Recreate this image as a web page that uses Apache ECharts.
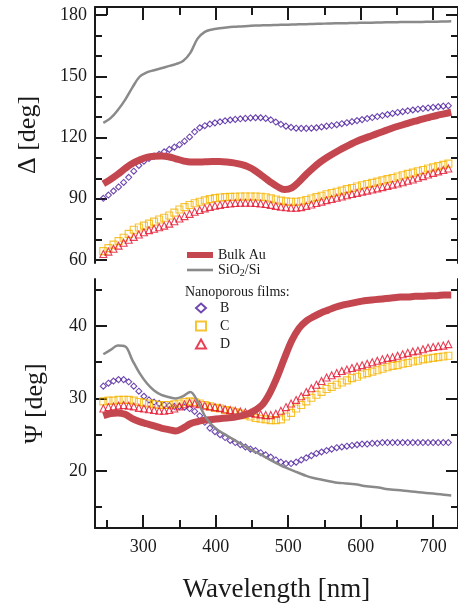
<!DOCTYPE html>
<html>
<head>
<meta charset="utf-8">
<title>Ellipsometry Delta / Psi</title>
<script src="https://cdn.jsdelivr.net/npm/echarts@6/dist/echarts.min.js"></script>
<style>
  html, body { margin: 0; padding: 0; background: #fff; }
  #chart { width: 458px; height: 604px; }
</style>
</head>
<body>
<div id="chart"></div>
<script>
// wavelengths of the marker series (nm)
var wlMark = [245, 252, 259, 266, 273, 280, 287, 294, 301, 308, 315, 322, 329, 336, 343, 350, 357, 364, 371, 378,
  385, 392, 399, 406, 413, 420, 427, 434, 441, 448, 455, 462, 469, 476, 483, 490, 497, 504, 511, 518,
  525, 532, 539, 546, 553, 560, 567, 574, 581, 588, 595, 602, 609, 616, 623, 630, 637, 644, 651, 658,
  665, 672, 679, 686, 693, 700, 707, 714, 721];
// wavelengths of the two reference curves (nm)
var wlLine = [245, 255, 265, 275, 285, 295, 305, 315, 325, 335, 345, 355, 365, 375, 385, 395, 405, 415, 425, 435,
  445, 455, 465, 475, 485, 495, 505, 515, 525, 535, 545, 555, 565, 575, 585, 595, 605, 615, 625, 635,
  645, 655, 665, 675, 685, 695, 705, 715, 725];

/* Delta [deg] */
var deltaAu = [97.3, 99.5, 102, 104.8, 107.3, 109, 110.3, 110.8, 110.9, 110.6, 109.6, 108.6, 108, 108, 108.1, 108.2, 108.2, 108, 107.6, 106.8,
  105.6, 103.6, 101, 98.3, 96, 94.5, 95.3, 98.3, 102, 105.3, 108.2, 110.6, 112.7, 114.7, 116.5, 118.2, 119.6, 120.9, 122.2, 123.5,
  124.8, 125.9, 127, 128, 129, 129.9, 130.8, 131.6, 132.4];
var deltaSiO2 = [127.2, 129.5, 133.5, 138.5, 144.5, 149.8, 152, 153, 154, 155, 156, 157.5, 161.5, 168.5, 171.8, 173, 173.6, 174, 174.3, 174.5,
  174.7, 174.9, 175, 175.1, 175.2, 175.3, 175.4, 175.5, 175.6, 175.7, 175.8, 175.9, 176, 176, 176.1, 176.2, 176.3, 176.3, 176.4, 176.5,
  176.5, 176.6, 176.6, 176.7, 176.7, 176.8, 176.8, 176.9, 177];
var deltaB = [90.2, 91.8, 93.8, 95.8, 98, 100.5, 103.5, 106.3, 108.4, 109.8, 110.9, 111.8, 113, 114.2, 115.3, 116.5, 118.2, 120.3, 122.8, 124.8,
  125.8, 126.6, 127.2, 127.7, 128.2, 128.6, 128.9, 129.2, 129.4, 129.6, 129.7, 129.7, 129.4, 128.7, 127.6, 126.5, 125.6, 125, 124.6, 124.5,
  124.5, 124.6, 124.8, 125.2, 125.6, 125.9, 126.3, 126.8, 127.3, 127.8, 128.3, 128.8, 129.3, 129.8, 130.3, 130.8, 131.3, 131.8, 132.3, 132.7,
  133.1, 133.5, 133.9, 134.2, 134.5, 134.8, 135.1, 135.4, 135.6];
var deltaC = [64.3, 65.8, 67.5, 69.2, 70.9, 72.8, 74.8, 75.9, 76.8, 77.8, 78.8, 79.8, 80.7, 81.8, 83.2, 84.7, 85.9, 86.9, 87.8, 88.5,
  89.2, 89.8, 90.3, 90.6, 90.8, 90.9, 91, 91.1, 91.1, 91.1, 91.1, 91, 90.7, 90.2, 89.6, 89.1, 88.7, 88.5, 88.5, 88.8,
  89.4, 90.1, 90.8, 91.5, 92.2, 92.8, 93.4, 94, 94.7, 95.3, 96, 96.6, 97.2, 97.8, 98.4, 99, 99.6, 100.2, 100.9, 101.5,
  102.2, 102.8, 103.5, 104.1, 104.8, 105.4, 106, 106.6, 107.2];
var deltaD = [62.9, 64.1, 65.5, 67, 68.4, 69.9, 71.3, 72.5, 73.6, 74.6, 75.3, 76, 76.8, 77.8, 79, 80.3, 81.5, 82.6, 83.6, 84.5,
  85.3, 86, 86.6, 87, 87.4, 87.7, 87.9, 88, 88, 88, 87.9, 87.7, 87.4, 87, 86.5, 86.1, 85.8, 85.6, 85.6, 85.9,
  86.5, 87.2, 87.9, 88.6, 89.3, 89.9, 90.5, 91.1, 91.7, 92.3, 92.9, 93.5, 94, 94.5, 95.1, 95.7, 96.3, 96.9, 97.5, 98.1,
  98.8, 99.4, 100.3, 101.1, 101.9, 102.7, 103.4, 104.1, 104.8];

/* Psi [deg] */
var psiAu = [27.6, 27.9, 28, 27.8, 27.2, 26.8, 26.5, 26.2, 25.9, 25.7, 25.5, 25.9, 26.5, 26.8, 27, 27.1, 27.2, 27.3, 27.4, 27.6,
  27.9, 28.4, 29.2, 30.8, 33, 35.6, 38, 39.7, 40.7, 41.3, 41.8, 42.2, 42.6, 42.9, 43.1, 43.3, 43.5, 43.6, 43.7, 43.8,
  43.9, 44, 44, 44.1, 44.1, 44.2, 44.2, 44.3, 44.3];
var psiSiO2 = [36.1, 36.7, 37.3, 37.2, 35.3, 33.5, 32.1, 31.1, 30.5, 30.2, 30, 30.3, 30.9, 29.6, 27.6, 26.3, 25.5, 24.9, 24.3, 23.7,
  23.1, 22.6, 22.1, 21.5, 21, 20.5, 20.1, 19.7, 19.3, 19, 18.8, 18.6, 18.4, 18.3, 18.2, 18.1, 17.9, 17.8, 17.7, 17.5,
  17.4, 17.3, 17.2, 17.1, 17, 16.9, 16.8, 16.7, 16.6];
var psiB = [31.7, 32.1, 32.4, 32.6, 32.6, 32.3, 31.7, 31, 30.3, 29.8, 29.5, 29.3, 29.1, 29, 28.9, 28.9, 28.8, 28.6, 28.2, 27.6,
  26.7, 25.9, 25.4, 25, 24.6, 24.2, 23.9, 23.6, 23.3, 23, 22.8, 22.5, 22.2, 21.9, 21.5, 21.2, 21, 21, 21.2, 21.5,
  21.8, 22.1, 22.4, 22.6, 22.8, 23, 23.2, 23.3, 23.4, 23.5, 23.6, 23.7, 23.7, 23.8, 23.8, 23.9, 23.9, 23.9, 23.9, 23.9,
  23.9, 23.9, 23.9, 23.9, 23.9, 23.9, 23.9, 23.9, 23.9];
var psiC = [29.6, 29.7, 29.7, 29.8, 29.8, 29.8, 29.7, 29.5, 29.4, 29.3, 29.2, 29.1, 29.1, 29.1, 29.2, 29.3, 29.5, 29.6, 29.5, 29.3,
  29.1, 28.9, 28.7, 28.6, 28.4, 28.3, 28.1, 27.9, 27.7, 27.5, 27.3, 27.2, 27.1, 27, 27, 27.1, 27.5, 28, 28.6, 29.1,
  29.6, 30.1, 30.5, 30.9, 31.3, 31.6, 31.9, 32.2, 32.5, 32.8, 33, 33.3, 33.5, 33.7, 33.9, 34.1, 34.3, 34.5, 34.6, 34.8,
  34.9, 35.1, 35.2, 35.4, 35.5, 35.6, 35.7, 35.8, 35.9];
var psiD = [28.6, 28.8, 28.9, 29, 29.1, 29, 28.9, 28.7, 28.6, 28.5, 28.4, 28.3, 28.3, 28.4, 28.6, 28.9, 29.2, 29.4, 29.3, 29.2,
  29, 28.9, 28.8, 28.7, 28.5, 28.4, 28.3, 28.2, 28.1, 28, 27.9, 27.8, 27.7, 27.7, 27.9, 28.3, 28.8, 29.3, 29.8, 30.3,
  30.9, 31.4, 31.9, 32.4, 32.9, 33.2, 33.5, 33.8, 34, 34.2, 34.4, 34.6, 34.8, 35, 35.2, 35.4, 35.6, 35.7, 35.9, 36.1,
  36.3, 36.5, 36.6, 36.8, 37, 37.1, 37.2, 37.3, 37.5];

// ticks and labels
var xMajor = [300, 400, 500, 600, 700];
var xMinor = [250, 350, 450, 550, 650];
var deltaMajor = [60, 90, 120, 150, 180];
var deltaMinor = [70, 80, 100, 110, 130, 140, 160, 170];
var psiMajor = [20, 30, 40];
var psiMinor = [15, 25, 35, 45];

var FONT = '"Liberation Serif", "DejaVu Serif", serif';
var INK = '#1a1a1a';

function pairs(xs, ys) {
  return xs.map(function (x, i) { return [x, ys[i]]; });
}

// one axis = one set of ticks (major or minor), optional line and labels
function axis(grid, pos, min, max, ticks, len, line, labels) {
  return {
    type: 'value', gridIndex: grid, position: pos, min: min, max: max,
    splitLine: { show: false },
    axisLine: { show: line, onZero: false, lineStyle: { color: INK, width: 2 } },
    axisTick: { show: true, inside: true, length: len, customValues: ticks, lineStyle: { color: INK, width: 2 } },
    axisLabel: {
      show: labels, customValues: ticks, inside: false, margin: pos == 'bottom' ? 10 : 8,
      color: INK, fontFamily: FONT, fontSize: 18
    }
  };
}

var X0 = 233.5, X1 = 734.3;
var D0 = 58.5, D1 = 184;
var P0 = 12.1, P1 = 46.5;

var xAxes = [
  axis(0, 'top', X0, X1, xMajor, 13, true, false),
  axis(0, 'top', X0, X1, xMinor, 8, false, false),
  axis(1, 'bottom', X0, X1, xMajor, 13, true, true),
  axis(1, 'bottom', X0, X1, xMinor, 8, false, false)
];
xAxes[2].name = 'Wavelength [nm]';
xAxes[2].nameLocation = 'middle';
xAxes[2].nameGap = 48;
xAxes[2].nameTextStyle = { fontFamily: FONT, fontSize: 27, color: INK };

var yAxes = [
  axis(0, 'left', D0, D1, deltaMajor, 12, true, true),
  axis(0, 'left', D0, D1, deltaMinor, 7, false, false),
  axis(0, 'right', D0, D1, deltaMajor, 12, true, false),
  axis(0, 'right', D0, D1, deltaMinor, 7, false, false),
  axis(1, 'left', P0, P1, psiMajor, 12, true, true),
  axis(1, 'left', P0, P1, psiMinor, 7, false, false),
  axis(1, 'right', P0, P1, psiMajor, 12, true, false),
  axis(1, 'right', P0, P1, psiMinor, 7, false, false)
];
yAxes[0].name = 'Δ [deg]';
yAxes[4].name = 'Ψ [deg]';
[0, 4].forEach(function (i) {
  yAxes[i].nameLocation = 'middle';
  yAxes[i].nameRotate = 90;
  yAxes[i].nameTextStyle = { fontFamily: FONT, fontSize: 26, color: INK };
});
yAxes[0].nameGap = 54;
yAxes[4].nameGap = 47;

var cAu = '#c4464f', cSi = '#8a8a8a', cB = '#4b1c9e', cC = '#f5b400', cD = '#e4102c';

function lineSeries(name, xi, yi, wl, vals, color, width) {
  return {
    name: name, type: 'line', xAxisIndex: xi, yAxisIndex: yi,
    data: pairs(wl, vals), smooth: 0.35, showSymbol: false, symbol: 'none',
    lineStyle: { color: color, width: width }, itemStyle: { color: color }
  };
}
function markSeries(name, xi, yi, vals, color, symbol, size) {
  return {
    name: name, type: 'scatter', xAxisIndex: xi, yAxisIndex: yi,
    data: pairs(wlMark, vals), symbol: symbol, symbolSize: size,
    itemStyle: { color: 'rgba(0,0,0,0)', borderColor: color, borderWidth: 1.1 }
  };
}

var series = [
  lineSeries('Bulk Au', 0, 0, wlLine, deltaAu, cAu, 7),
  lineSeries('SiO2/Si', 0, 0, wlLine, deltaSiO2, cSi, 2.5),
  markSeries('B', 0, 0, deltaB, cB, 'diamond', 6),
  markSeries('C', 0, 0, deltaC, cC, 'rect', 7),
  markSeries('D', 0, 0, deltaD, cD, 'triangle', 7),
  lineSeries('Bulk Au', 2, 4, wlLine, psiAu, cAu, 7),
  lineSeries('SiO2/Si', 2, 4, wlLine, psiSiO2, cSi, 2.5),
  markSeries('B', 2, 4, psiB, cB, 'diamond', 6),
  markSeries('C', 2, 4, psiC, cC, 'rect', 7),
  markSeries('D', 2, 4, psiD, cD, 'triangle', 7)
];

var chart = echarts.init(document.getElementById('chart'), null, { renderer: 'canvas' });
chart.setOption({
  animation: false,
  backgroundColor: '#fff',
  grid: [
    { left: 95, top: 7, width: 365, height: 256 },
    { left: 95, top: 279, width: 365, height: 253 }
  ],
  xAxis: xAxes,
  yAxis: yAxes,
  legend: [
    {
      data: [
        { name: 'Bulk Au', icon: 'path://M0,0h26v6h-26z', itemStyle: { color: cAu } },
        { name: 'SiO2/Si', icon: 'path://M0,0h26v2.6h-26z', itemStyle: { color: cSi } }
      ],
      orient: 'vertical', left: 187, top: 248, padding: 0,
      itemWidth: 26, itemHeight: 10, itemGap: 1, selectedMode: false,
      formatter: function (n) { return n == 'SiO2/Si' ? '{n|SiO}{s|2}{n|/Si}' : '{n|' + n + '}'; },
      textStyle: {
        fontFamily: FONT, fontSize: 14, color: INK,
        rich: {
          n: { fontFamily: FONT, fontSize: 14, color: INK },
          s: { fontFamily: FONT, fontSize: 10, color: INK, padding: [6, 0, 0, 0] }
        }
      }
    },
    {
      data: ['B', 'C', 'D'], orient: 'vertical', left: 195, top: 301, padding: 0,
      itemWidth: 10, itemHeight: 9, itemGap: 4, selectedMode: false,
      textStyle: { fontFamily: FONT, fontSize: 14, color: INK, padding: [0, 0, 0, 9] }
    }
  ],
  graphic: [
    {
      type: 'text', left: 185, top: 285,
      style: { text: 'Nanoporous films:', font: '14px ' + FONT, fill: INK }
    }
  ],
  series: series
});
</script>
</body>
</html>
